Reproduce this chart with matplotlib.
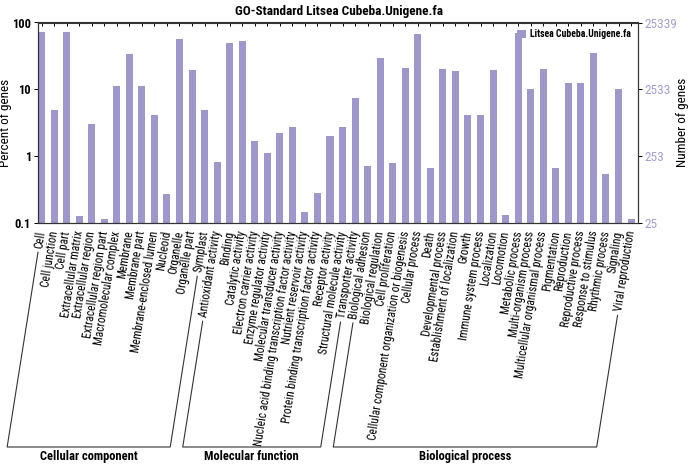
import numpy as np
import matplotlib
matplotlib.use("Agg")
import matplotlib.pyplot as plt
from matplotlib.lines import Line2D

plt.rcParams['font.family'] = ['Roboto Condensed', 'DejaVu Sans']

# GO terms, in the order they are drawn
cellular = ['Cell', 'Cell junction', 'Cell part', 'Extracellular matrix', 'Extracellular region',
            'Extracellular region part', 'Macromolecular complex', 'Membrane', 'Membrane part',
            'Membrane-enclosed lumen', 'Nucleoid', 'Organelle', 'Organelle part', 'Symplast']
molecular = ['Antioxidant activity', 'Binding', 'Catalytic activity', 'Electron carrier activity',
             'Enzyme regulator activity', 'Molecular transducer activity',
             'Nucleic acid binding transcription factor activity', 'Nutrient reservoir activity',
             'Protein binding transcription factor activity', 'Receptor activity',
             'Structural molecule activity', 'Transporter activity']
biological = ['Biological adhesion', 'Biological regulation', 'Cell proliferation',
              'Cellular component organization or biogenesis', 'Cellular process', 'Death',
              'Developmental process', 'Establishment of localization', 'Growth',
              'Immune system process', 'Localization', 'Locomotion', 'Metabolic process',
              'Multi-organism process', 'Multicellular organismal process', 'Pigmentation',
              'Reproduction', 'Reproductive process', 'Response to stimulus', 'Rhythmic process',
              'Signaling', 'Viral reproduction']

# percent of genes
cellular_pct = [71.8, 4.85, 71.8, 0.126, 3.0, 0.114, 11.3, 33.9, 11.3, 4.17, 0.27, 56.5, 19.1, 4.85]
molecular_pct = [0.81, 49.6, 52.7, 1.68, 1.1, 2.19, 2.75, 0.143, 0.28, 2.0, 2.75, 7.4]
biological_pct = [0.71, 29.2, 0.78, 20.9, 67.0, 0.67, 20.4, 18.7, 4.12, 4.12, 19.5, 0.129,
                  70.0, 10.0, 20.2, 0.67, 12.2, 12.2, 34.7, 0.53, 10.0, 0.114]

groups = ['Cellular component', 'Molecular function', 'Biological process']
total_genes = 25339
right_ticks = [25, 253, 2533, 25339]

terms = cellular + molecular + biological
pct = cellular_pct + molecular_pct + biological_pct
sizes = [len(cellular), len(molecular), len(biological)]

bar_color = '#9d97cb'
W, H = 689, 469
fig = plt.figure(figsize=(W / 100, H / 100), dpi=100)
ax = fig.add_axes([38 / W, 1 - 222.7 / H, (637.7 - 38) / W, (222.7 - 22.5) / H])

x = np.arange(len(terms))
bars = ax.bar(x, pct, width=0.56, color=bar_color, label='Litsea Cubeba.Unigene.fa', zorder=2)
ax.set_yscale('log')
ax.set_ylim(0.1, 100)
ax.set_xlim(-0.28, len(terms) - 0.47)
ax.set_yticks([0.1, 1, 10, 100])
ax.set_yticklabels(['0.1', '1', '10', '100'], fontsize=9, fontweight='bold')
ax.yaxis.set_minor_locator(matplotlib.ticker.NullLocator())
ax.set_ylabel('Percent of genes', fontsize=9.5)
ax.yaxis.set_label_coords(-0.043, 0.5)

ax.set_xticks(x)
ax.set_xticklabels(terms, rotation=81, ha='right', va='center', rotation_mode='anchor', fontsize=8.3)
ax.tick_params(axis='x', direction='in', length=3, top=True, pad=6, width=0.7)
ax.tick_params(axis='y', direction='out', length=3, width=0.7, pad=2)
for s in ax.spines.values():
    s.set_linewidth(0.8)
    s.set_color('#333333')

ax2 = ax.twinx()
ax2.set_yscale('log')
ax2.set_ylim(0.1 * total_genes / 100, total_genes)
ax2.set_yticks([total_genes / 1000, total_genes / 100, total_genes / 10, total_genes])
ax2.set_yticklabels([str(t) for t in right_ticks], fontsize=9.5, color='#a39dd3')
ax2.yaxis.set_minor_locator(matplotlib.ticker.NullLocator())
ax2.tick_params(axis='y', direction='out', length=3, width=0.7, pad=2)
ax2.set_ylabel('Number of genes', fontsize=9.5)
ax2.yaxis.set_label_coords(1.064, 0.5)
for s in ax2.spines.values():
    s.set_linewidth(0.8)
    s.set_color('#333333')

ax.legend(loc='upper right', frameon=False, handlelength=0.9, handleheight=0.9,
          handletextpad=0.4, borderaxespad=0.3, prop={'size': 7, 'weight': 'bold'})

fig.text(339 / W, 1 - 12 / H, 'GO-Standard Litsea Cubeba.Unigene.fa', ha='center', va='center',
         fontsize=9.5, fontweight='bold')

# brackets under the tick labels
fig.canvas.draw()
renderer = fig.canvas.get_renderer()
labels = ax.get_xticklabels()
theta = np.deg2rad(81)
base_y = H - 447

def bracket_line(i):
    lab = labels[i]
    bb = lab.get_window_extent(renderer)
    xa = ax.transData.transform((x[i], 0.1))[0]
    ya = bb.y1
    y0 = bb.y0 - 3
    xs = xa - (ya - y0) / np.tan(theta)
    xe = xa - (ya - base_y) / np.tan(theta)
    return (xs, y0), (xe, base_y)

start = 0
for g, n in zip(groups, sizes):
    (x0a, y0a), (x0b, y0b) = bracket_line(start)
    (x1a, y1a), (x1b, y1b) = bracket_line(start + n - 1)
    xs = [x0a, x0b, x1b, x1a]
    ys = [y0a, y0b, y1b, y1a]
    fig.add_artist(Line2D([v / W for v in xs], [v / H for v in ys], color='#333333', lw=0.8))
    fig.text((x0b + x1b) / 2 / W, (H - 456) / H, g, ha='center', va='center',
             fontsize=9, fontweight='bold')
    start += n

fig.savefig('out.png', dpi=100)
